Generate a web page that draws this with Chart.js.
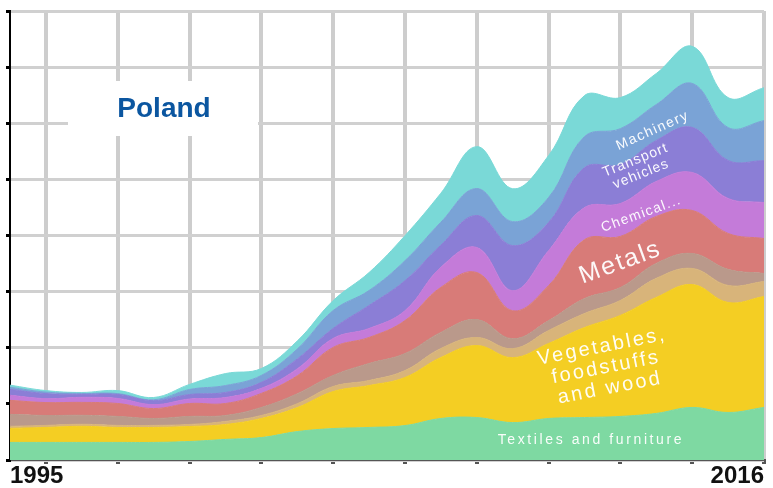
<!DOCTYPE html>
<html>
<head>
<meta charset="utf-8">
<script src="https://cdn.jsdelivr.net/npm/chart.js@4.4.0/dist/chart.umd.min.js"></script>
<style>
  html, body { margin: 0; padding: 0; background: #fff; }
</style>
</head>
<body>
<canvas id="exportCanvas" width="773" height="488"></canvas>
<script>
// Poland exports by product group, 1995-2016 (stacked)
const years = ["1995", "1996", "1997", "1998", "1999", "2000", "2001", "2002", "2003", "2004", "2005",
               "2006", "2007", "2008", "2009", "2010", "2011", "2012", "2013", "2014", "2015", "2016"];

const textiles   = [9.4, 9.4, 9.4, 9.4, 9.4, 9.9, 11.0, 12.0, 15.2, 16.8, 17.4, 18.4, 22.2, 22.7, 20.0, 22.2, 22.7, 23.3, 24.9, 28.1, 25.4, 28.1];
const vegetables = [7.5, 8.0, 8.6, 8.0, 8.0, 8.0, 8.0, 10.2, 12.8, 19.8, 22.4, 25.7, 32.6, 38.5, 34.7, 40.1, 48.1, 54.0, 62.0, 65.7, 58.8, 59.3];
const stone      = [1.1, 1.1, 1.1, 1.1, 1.1, 1.1, 1.6, 1.6, 2.1, 2.7, 2.7, 3.7, 4.8, 4.3, 4.8, 6.9, 7.5, 8.0, 10.2, 8.6, 9.1, 8.0];
const minerals   = [6.4, 5.3, 4.8, 4.8, 3.7, 4.3, 3.2, 4.3, 5.3, 5.9, 9.1, 9.1, 8.6, 9.6, 5.3, 5.3, 8.0, 6.9, 8.0, 8.0, 8.6, 4.3];
const metals     = [7.5, 6.9, 6.9, 6.9, 5.3, 6.9, 6.4, 7.5, 9.6, 15.0, 13.9, 17.6, 24.1, 25.1, 15.0, 18.7, 31.5, 27.3, 25.1, 23.0, 19.2, 18.7];
const chemical   = [2.7, 2.1, 2.7, 2.7, 2.1, 2.4, 3.2, 2.7, 3.7, 4.8, 4.8, 5.3, 10.7, 13.4, 10.7, 18.7, 17.1, 17.6, 18.7, 20.3, 18.7, 19.2];
const transport  = [3.2, 2.7, 1.6, 2.1, 2.1, 2.4, 2.7, 3.2, 5.3, 5.3, 12.3, 16.0, 11.8, 17.1, 24.1, 15.0, 21.4, 20.8, 21.9, 24.1, 20.3, 22.4];
const machinery  = [1.1, 0.8, 0.5, 0.5, 0.5, 2.7, 3.7, 3.7, 5.3, 9.6, 8.0, 10.7, 12.3, 14.4, 12.8, 13.4, 16.6, 19.2, 19.2, 23.5, 17.6, 21.4];
const other      = [1.1, 0.8, 0.5, 1.6, 1.2, 2.7, 6.4, 3.7, 4.3, 5.3, 9.6, 13.4, 15.5, 22.4, 17.6, 22.4, 21.9, 16.6, 16.6, 19.8, 16.0, 17.6];

const yMax = 240;
const yStep = 30;

const series = [
  ["Textiles and furniture", textiles, "#7ed9a2"],
  ["Vegetables, foodstuffs and wood", vegetables, "#f4ce23"],
  ["Stone and glass", stone, "#d8b47a"],
  ["Minerals", minerals, "#ba998b"],
  ["Metals", metals, "#d87b78"],
  ["Chemical products", chemical, "#c47bd9"],
  ["Transport vehicles", transport, "#8b7ed6"],
  ["Machinery", machinery, "#7aa3d6"],
  ["Other", other, "#7ad9d7"]
];

// text written inside the areas, placed at (year index, stacked value)
const areaLabels = [
  { lines: ["Textiles and furniture"], at: [16.18, 10.4], angle: 0, size: 14, spacing: 2.6, lh: 16 },
  { lines: ["Vegetables,", "foodstuffs", "and wood"], at: [16.6, 49.5], angle: -11, size: 20, spacing: 2.4, lh: 21 },
  { lines: ["Metals"], at: [17.0, 105.5], angle: -20, size: 25, spacing: 2, lh: 26 },
  { lines: ["Chemical..."], at: [17.58, 131.5], angle: -20, size: 14, spacing: 1.3, lh: 15 },
  { lines: ["Transport", "vehicles"], at: [17.5, 156.5], angle: -22, size: 14, spacing: 1.1, lh: 15 },
  { lines: ["Machinery"], at: [17.9, 176], angle: -24, size: 14, spacing: 1.5, lh: 15 }
];

const overlay = {
  id: 'overlay',
  beforeDatasetsDraw(chart) {
    const ctx = chart.ctx;
    ctx.save();
    ctx.fillStyle = '#fff';
    ctx.fillRect(68, 81, 190, 55);
    ctx.fillStyle = '#0b56a0';
    ctx.font = 'bold 28px "Liberation Sans", Arial, sans-serif';
    ctx.textAlign = 'center';
    ctx.textBaseline = 'middle';
    ctx.fillText('Poland', 164, 109);
    ctx.restore();
  },
  afterDatasetsDraw(chart) {
    const ctx = chart.ctx;
    const xs = chart.scales.x, ys = chart.scales.y;
    areaLabels.forEach(l => {
      const px = xs.getPixelForValue(l.at[0]);
      const py = ys.getPixelForValue(l.at[1]);
      ctx.save();
      ctx.translate(px, py);
      ctx.rotate(l.angle * Math.PI / 180);
      ctx.font = l.size + 'px "Liberation Sans", Arial, sans-serif';
      ctx.letterSpacing = l.spacing + 'px';
      ctx.fillStyle = 'rgba(255,255,255,0.95)';
      ctx.textAlign = 'center';
      ctx.textBaseline = 'middle';
      const n = l.lines.length;
      l.lines.forEach((t, i) => ctx.fillText(t, 0, (i - (n - 1) / 2) * l.lh));
      ctx.restore();
    });
  }
};

const chart = new Chart(document.getElementById('exportCanvas'), {
  type: 'line',
  data: {
    labels: years,
    datasets: series.map((s, i) => ({
      label: s[0],
      data: s[1],
      backgroundColor: s[2],
      borderColor: s[2],
      borderWidth: 1,
      pointRadius: 0,
      tension: 0.4,
      fill: i === 0 ? 'origin' : '-1'
    }))
  },
  options: {
    responsive: false,
    animation: false,
    devicePixelRatio: 1,
    layout: { padding: { left: 6, right: 9, top: 11, bottom: 0 } },
    plugins: { legend: { display: false }, tooltip: { enabled: false } },
    scales: {
      x: {
        grid: {
          color: c => c.index % 2 === 1 ? '#cdcdcd' : 'rgba(0,0,0,0)',
          tickColor: c => c.index % 2 === 1 ? '#555' : 'rgba(0,0,0,0)',
          lineWidth: 4,
          tickLength: 4
        },
        border: { color: '#555', width: 2 },
        ticks: {
          autoSkip: false,
          maxRotation: 0,
          align: 'inner',
          padding: 0,
          color: '#111',
          font: { family: '"Liberation Sans", Arial, sans-serif', size: 24, weight: 'bold', lineHeight: 1 },
          callback: function (v, i) {
            return (i === 0 || i === years.length - 1) ? this.getLabelForValue(v) : '';
          }
        }
      },
      y: {
        stacked: true,
        min: 0,
        max: yMax,
        grid: { color: '#d0d0d0', lineWidth: 3, tickColor: '#000', tickLength: 4 },
        border: { color: '#000', width: 2 },
        ticks: { display: false, stepSize: yStep }
      }
    }
  },
  plugins: [overlay]
});
</script>
</body>
</html>
